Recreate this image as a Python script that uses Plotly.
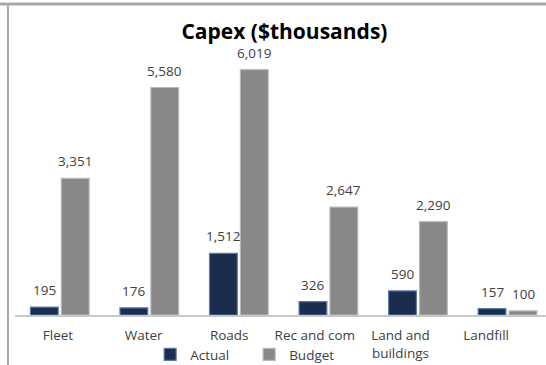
import plotly.graph_objects as go

categories = ["Fleet", "Water", "Roads", "Rec and com", "Land and<br>buildings", "Landfill"]
actual = [195, 176, 1512, 326, 590, 157]
budget = [3351, 5580, 6019, 2647, 2290, 100]

def fmt(v):
    return f"{v:,}"

fig = go.Figure()
fig.add_trace(go.Bar(
    name="Actual", x=categories, y=actual,
    marker=dict(color="#1b2d4f", line=dict(color="#5a7aa8", width=1.2)),
))
fig.add_trace(go.Bar(
    name="Budget", x=categories, y=budget,
    marker=dict(color="#888888", line=dict(color="#b8b8b8", width=1.2)),
))

# value labels
for vals, shift in ((actual, -15.5), (budget, 15.5)):
    for c, v in zip(categories, vals):
        fig.add_annotation(x=c, y=v, xref="x", yref="y", text=fmt(v), showarrow=False,
                           xshift=shift, yshift=17, yanchor="middle",
                           font=dict(family="Open Sans", size=13.5, color="#404040"))

fig.update_layout(
    width=546, height=365,
    margin=dict(l=15, r=0, t=50, b=50, autoexpand=False),
    paper_bgcolor="white", plot_bgcolor="white",
    barmode="group", bargap=0.31, bargroupgap=0.1,
    title=dict(text="<b>Capex ($thousands)</b>", x=0.521, xanchor="center", y=0.912, yanchor="middle",
               font=dict(family="Open Sans", size=21, color="black")),
    showlegend=True,
    legend=dict(orientation="h", x=0.2545, xanchor="left", y=-0.0906, yanchor="top",
                font=dict(family="Open Sans", size=13.5, color="#404040"),
                bgcolor="rgba(0,0,0,0)", entrywidth=54, itemwidth=30,
                tracegroupgap=0),
)
fig.update_xaxes(range=[-0.5, 5.43], showline=True, linecolor="#c8c8c8", linewidth=1.5,
                 showticklabels=False, ticks="", showgrid=False)
# category labels (Excel-style label spacing)
fig.update_layout(xaxis2=dict(overlaying="x", side="bottom", anchor="y", range=[-0.502, 5.70],
                              tickmode="array", tickvals=list(range(len(categories))),
                              ticktext=categories, ticks="outside", ticklen=8,
                              tickcolor="rgba(0,0,0,0)", showline=False, showgrid=False,
                              zeroline=False,
                              tickfont=dict(family="Open Sans", size=13.5, color="#404040")))
fig.add_trace(go.Scatter(x=[0], y=[0], xaxis="x2", yaxis="y", mode="markers",
                         marker=dict(opacity=0), showlegend=False, hoverinfo="skip"))
fig.update_yaxes(range=[0, 6500], visible=False, showgrid=False, zeroline=False)

# frame lines
fig.add_shape(type="line", xref="paper", yref="paper", x0=-0.03, x1=1.0, y0=1.1736, y1=1.1736,
              line=dict(color="#a8a8a8", width=3))
fig.add_shape(type="line", xref="paper", yref="paper", x0=-0.0132, x1=-0.0132, y0=1.168, y1=-0.2,
              line=dict(color="#8c8c8c", width=1.5))

fig.write_html("out.html")
